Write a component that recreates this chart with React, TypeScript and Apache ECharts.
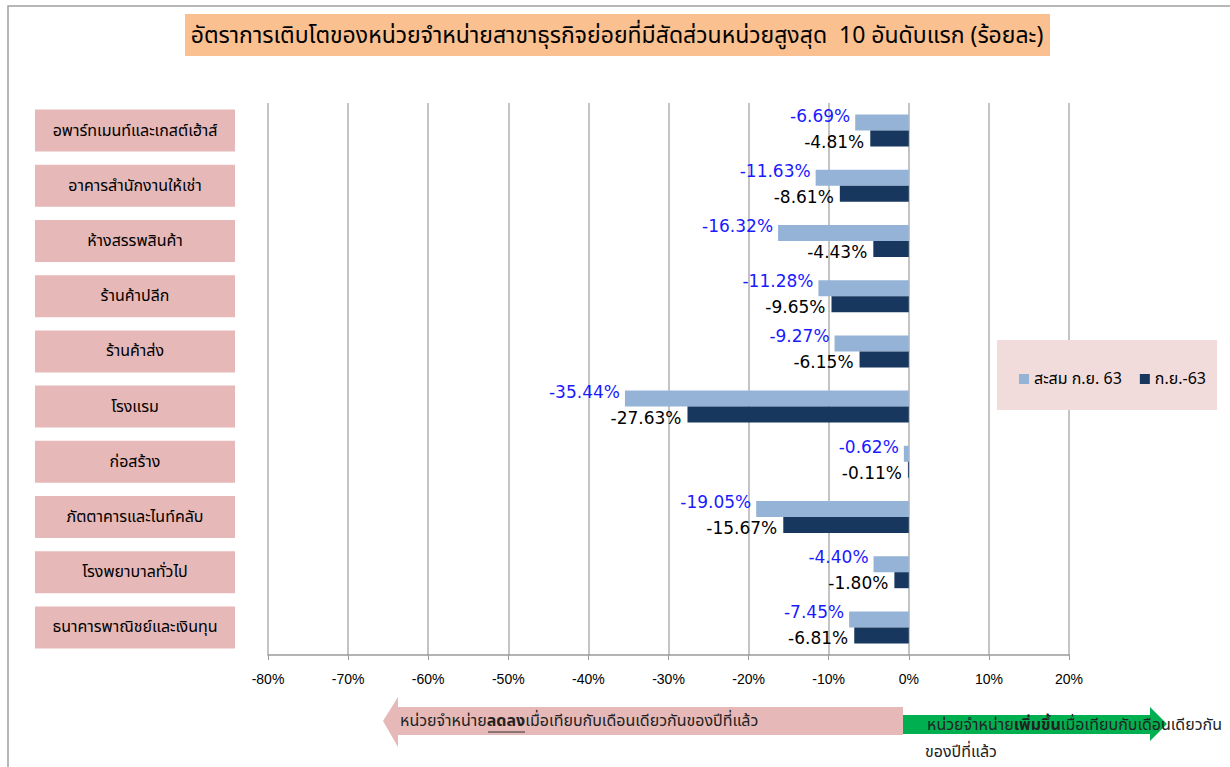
import React, { useEffect, useRef } from "react";
import * as echarts from "echarts";

const categories = [
  "อพาร์ทเมนท์และเกสต์เฮ้าส์",
  "อาคารสำนักงานให้เช่า",
  "ห้างสรรพสินค้า",
  "ร้านค้าปลีก",
  "ร้านค้าส่ง",
  "โรงแรม",
  "ก่อสร้าง",
  "ภัตตาคารและไนท์คลับ",
  "โรงพยาบาลทั่วไป",
  "ธนาคารพาณิชย์และเงินทุน",
];
const seriesNames = ["สะสม ก.ย. 63", "ก.ย.-63"];
const cumulativeValues = [-6.69, -11.63, -16.32, -11.28, -9.27, -35.44, -0.62, -19.05, -4.4, -7.45];
const monthValues = [-4.81, -8.61, -4.43, -9.65, -6.15, -27.63, -0.11, -15.67, -1.8, -6.81];
const xTicks = { min: -80, max: 20, interval: 10 };

const THAI = "'Noto Sans Thai', 'Noto Sans Thai UI', Tahoma, 'DejaVu Sans', 'Noto Sans', sans-serif";
const NUM = "'DejaVu Sans', Verdana, sans-serif";

export default function App() {
  const ref = useRef<HTMLDivElement>(null);
  useEffect(() => {
    document.body.style.margin = "0";
    const chart = echarts.init(ref.current!, null, { renderer: "svg" });
    const option = {
      animation: false,
      backgroundColor: "#ffffff",
      grid: { left: 268, right: 161, top: 103, bottom: 112, containLabel: false },
      xAxis: {
        type: "value",
        min: xTicks.min,
        max: xTicks.max,
        interval: xTicks.interval,
        axisLine: { show: true, onZero: false, lineStyle: { color: "#9a9a9a", width: 1.5 } },
        axisTick: { show: true, length: 5, lineStyle: { color: "#9a9a9a", width: 1 } },
        axisLabel: {
          formatter: (v: number) => `${v}%`,
          color: "#000",
          fontSize: 14,
          fontFamily: "'Liberation Sans Narrow', 'Liberation Sans', Arial, sans-serif",
          margin: 17,
        },
        splitLine: { show: true, lineStyle: { color: "#b0b0b0", width: 1.5 } },
      },
      yAxis: {
        type: "category",
        inverse: true,
        data: categories,
        axisLine: { show: false },
        axisTick: { show: false },
        axisLabel: {
          margin: 33,
          formatter: (v: string) => `{box|${v}}`,
          rich: {
            box: {
              width: 200,
              height: 42,
              align: "center",
              verticalAlign: "middle",
              backgroundColor: "#E6B9B8",
              color: "#000",
              fontSize: 16,
              fontFamily: THAI,
            },
          },
        },
      },
      legend: {
        data: seriesNames,
        left: 1014,
        top: 366,
        icon: "rect",
        itemWidth: 10,
        itemHeight: 10,
        itemGap: 18,
        z: 20,
        textStyle: { color: "#000", fontSize: 16, fontFamily: THAI },
      },
      series: [
        {
          name: seriesNames[0],
          type: "bar",
          data: cumulativeValues,
          barWidth: 16,
          barGap: "0%",
          itemStyle: { color: "#95B3D7" },
          label: {
            show: true,
            position: "left",
            distance: 5,
            offset: [0, -7],
            formatter: (p: any) => `${p.value.toFixed(2)}%`,
            color: "#1a1aff",
            fontSize: 17,
            fontFamily: NUM,
          },
        },
        {
          name: seriesNames[1],
          type: "bar",
          data: monthValues,
          barWidth: 16,
          itemStyle: { color: "#17375E" },
          label: {
            show: true,
            position: "left",
            distance: 6,
            offset: [0, 3],
            formatter: (p: any) => `${p.value.toFixed(2)}%`,
            color: "#000",
            fontSize: 17,
            fontFamily: NUM,
          },
        },
      ],
      graphic: [
        {
          type: "rect",
          z: -10,
          silent: true,
          shape: { x: 8, y: 6, width: 1240, height: 800 },
          style: { fill: "none", stroke: "#a0a0a0", lineWidth: 1.5 },
        },
        {
          type: "rect",
          z: 1,
          shape: { x: 185, y: 14, width: 865, height: 42 },
          style: { fill: "#FAC090" },
        },
        {
          type: "text",
          z: 2,
          x: 617,
          y: 36,
          style: {
            text: "อัตราการเติบโตของหน่วยจำหน่ายสาขาธุรกิจย่อยที่มีสัดส่วนหน่วยสูงสุด  10 อันดับแรก (ร้อยละ)",
            fontSize: 23,
            fontFamily: THAI,
            fill: "#000",
            align: "center",
            verticalAlign: "middle",
          },
        },
        {
          type: "rect",
          z: 10,
          shape: { x: 997, y: 340, width: 220, height: 70 },
          style: { fill: "#F2DCDB" },
        },
        {
          type: "polygon",
          z: 1,
          shape: {
            points: [
              [383, 721],
              [398, 697],
              [398, 707],
              [903, 707],
              [903, 735],
              [398, 735],
              [398, 747],
            ],
          },
          style: { fill: "#E6B9B8" },
        },
        {
          type: "polygon",
          z: 1,
          shape: {
            points: [
              [903, 715],
              [1150, 715],
              [1150, 707],
              [1167, 724],
              [1150, 741],
              [1150, 734],
              [903, 734],
            ],
          },
          style: { fill: "#00B050" },
        },
        {
          type: "text",
          z: 2,
          x: 400,
          y: 721,
          style: {
            text: "หน่วยจำหน่าย{b|ลดลง}เมื่อเทียบกับเดือนเดียวกันของปีที่แล้ว",
            fontSize: 16,
            fontFamily: THAI,
            fill: "#222",
            verticalAlign: "middle",
            rich: { b: { fontSize: 16, fontWeight: "bold", fontFamily: THAI, fill: "#222" } },
          },
        },
        {
          type: "line",
          z: 2,
          shape: { x1: 488, y1: 732, x2: 525, y2: 732 },
          style: { stroke: "#333", lineWidth: 1 },
        },
        {
          type: "text",
          z: 2,
          x: 927,
          y: 725,
          style: {
            text: "หน่วยจำหน่าย{b|เพิ่มขึ้น}เมื่อเทียบกับเดือนเดียวกัน",
            fontSize: 16,
            fontFamily: THAI,
            fill: "#222",
            verticalAlign: "middle",
            rich: { b: { fontSize: 16, fontWeight: "bold", fontFamily: THAI, fill: "#222" } },
          },
        },
        {
          type: "text",
          z: 2,
          x: 925,
          y: 752,
          style: {
            text: "ของปีที่แล้ว",
            fontSize: 16,
            fontFamily: THAI,
            fill: "#222",
            verticalAlign: "middle",
          },
        },
      ],
    };
    chart.setOption(option as any);
    return () => chart.dispose();
  }, []);
  return <div ref={ref} style={{ width: 1230, height: 767 }} />;
}
